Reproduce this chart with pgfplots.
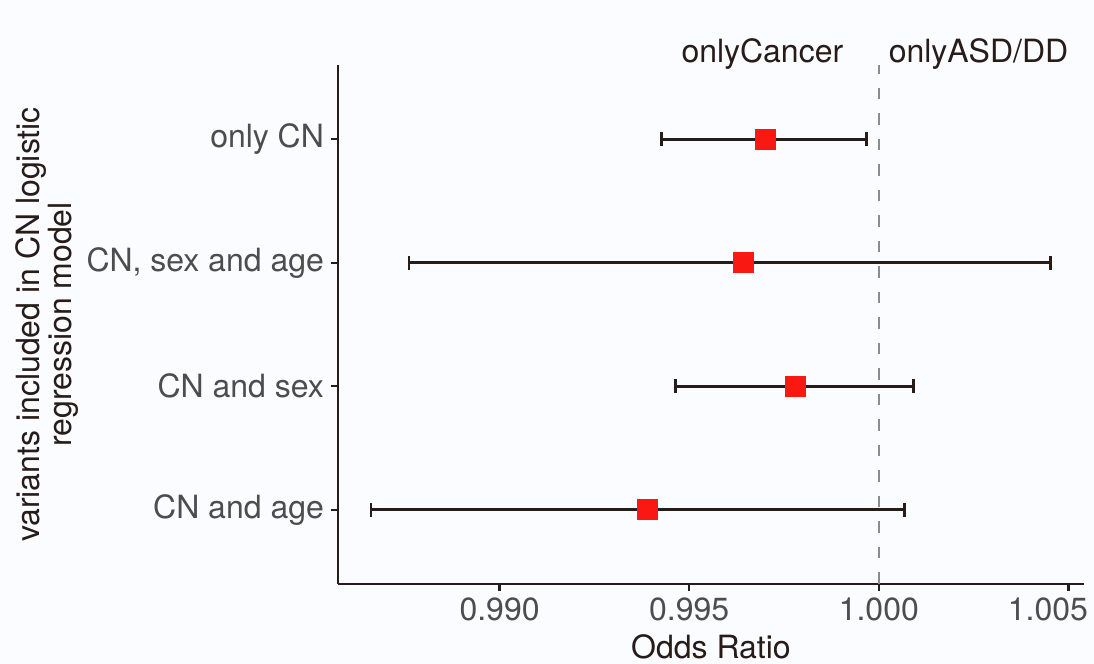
\documentclass[border=0pt]{standalone}
\usepackage{pgfplots}
\pgfplotsset{compat=1.18}
\usepackage{fontspec}
\setmainfont{TeX Gyre Heros}
\definecolor{bg}{RGB}{250,252,255}
\definecolor{axc}{RGB}{40,28,25}
\definecolor{tickc}{RGB}{77,77,77}
\definecolor{ptc}{RGB}{250,24,18}
\definecolor{dashc}{RGB}{140,140,140}
\pgfplotstableread{
x y em ep
0.99701 4 0.00275 0.00266
0.99642 3 0.00881 0.00811
0.99780 2 0.00317 0.00311
0.99389 1 0.00728 0.00678
}\datatab
\begin{document}
\begin{tikzpicture}
\path[use as bounding box, fill=bg] (-169pt,-40pt) rectangle (378pt,292pt);
\begin{axis}[
  at={(0,0)}, anchor=south west,
  scale only axis, width=373pt, height=259.5pt,
  xmin=0.98574, xmax=1.00541, ymin=0.4, ymax=4.6,
  axis lines=left,
  axis line style={-, draw=axc, line width=1.2pt},
  tick align=outside, major tick length=3.5pt,
  tick style={draw=axc, line width=1.2pt},
  xtick={0.990,0.995,1.000},
  xticklabels={0.990,0.995,1.000},
  extra x ticks={1.005},
  extra x tick labels={1.005},
  extra x tick style={xticklabel style={xshift=-10.25pt}},
  ytick={1,2,3,4},
  yticklabels={CN and age, CN and sex, {CN, sex and age}, only CN},
  ticklabel style={font=\fontsize{16}{19}\selectfont, text=tickc},
  /pgf/number format/assume math mode=true,
  clip=false,
]
\addplot[draw=dashc, line width=1.2pt, dash pattern=on 5.75pt off 7pt] coordinates {(1.000,0.4) (1.000,4.6)};
\addplot[only marks, color=ptc, mark=square*, mark size=5pt, mark options={fill=ptc, draw=ptc, line width=0pt}] table[x=x, y=y] {\datatab};
\addplot[draw=none, mark=none,
  error bars/.cd, x dir=both, x explicit,
  error bar style={draw=axc, line width=1.4pt, solid},
  error mark options={draw=axc, line width=1.4pt, mark size=3.5pt, rotate=90}]
  table[x=x, y=y, x error plus=ep, x error minus=em] {\datatab};
\node[anchor=base, text=axc, font=\fontsize{16}{19}\selectfont] at (axis cs:0.99693,4.624) {onlyCancer};
\node[anchor=base, text=axc, font=\fontsize{16}{19}\selectfont] at (axis cs:1.00263,4.624) {onlyASD/DD};
\end{axis}
\node[anchor=base, text=axc, font=\fontsize{16}{19}\selectfont] at (186.5pt,-37.5pt) {Odds Ratio};
\node[rotate=90, align=center, text=axc, font=\fontsize{16}{14.5}\selectfont] at (-145.5pt,129.75pt) {variants included in CN logistic\\regression model};
\end{tikzpicture}
\end{document}
